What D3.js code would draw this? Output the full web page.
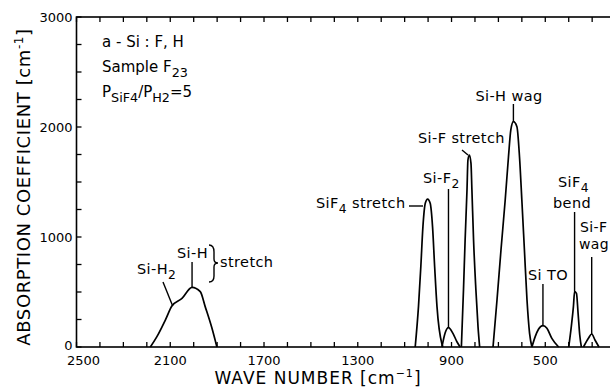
<!DOCTYPE html>
<html><head><meta charset="utf-8">
<script src="https://cdn.jsdelivr.net/npm/d3@7"></script>
<style>
html,body{margin:0;padding:0;background:#fff;}
svg{display:block;}
text{font-family:"DejaVu Sans",Verdana,sans-serif;fill:#000;}
</style></head><body>
<svg id="c" width="610" height="390"></svg>
<script>
// ---- data (wavenumber cm^-1, absorption coefficient cm^-1) ----
const siHStretch = [[2185,0],[2157,94],[2121,245],[2093,373],[2050,442],[2007,542],[1972,503],[1951,367],[1922,170],[1901,0]];
const siF4Stretch = [[1055,0],[1041,367],[1031,730],[1022,1094],[1012,1306],[1002,1345],[991,1306],[981,1094],[972,730],[962,367],[941,27],[937,0]];
const siF2 = [[941,0],[927,130],[913,176],[894,124],[877,48],[863,0]];
const siFStretch = [[858,0],[849,518],[842,973],[834,1427],[830,1700],[824,1745],[817,1670],[813,1427],[806,973],[796,518],[787,185],[780,0]];
const siHWag = [[723,0],[706,427],[689,882],[671,1336],[657,1730],[647,1973],[636,2048],[621,2003],[610,1730],[600,1336],[589,882],[578,427],[567,124],[557,0]];
const siTO = [[557,0],[543,94],[529,161],[510,194],[493,170],[472,79],[443,0]];
const siF4Bend = [[400,0],[389,185],[380,367],[375,503],[367,488],[360,306],[353,109],[346,0]];
const siFWag = [[337,0],[316,79],[302,118],[288,64],[271,0]];
const bands = [siHStretch, siF4Stretch, siF2, siFStretch, siHWag, siTO, siF4Bend, siFWag];

const xTickLabels = [2500, 2100, 1700, 1300, 900, 500];
const yTickLabels = [0, 1000, 2000, 3000];

// ---- layout ----
const svg = d3.select("#c");
const x = d3.scaleLinear().domain([2500, 200]).range([76.5, 615.6]);
const y = d3.scaleLinear().domain([0, 3000]).range([347, 17]);
const X0 = x.range()[0], X1 = x.range()[1], Y0 = y.range()[0], Y1 = y.range()[1];
const tickLen = 5;

const g = svg.append("g");
g.append("rect").attr("x", X0).attr("y", Y1).attr("width", X1 - X0).attr("height", Y0 - Y1)
  .attr("fill", "none").attr("stroke", "#000").attr("stroke-width", 1.6);

const xMinor = d3.range(2500, 199, -100);
const yMinor = d3.range(0, 3001, 250);
g.selectAll(".tb").data(xMinor).join("line")
  .attr("x1", d => x(d)).attr("x2", d => x(d)).attr("y1", Y0).attr("y2", Y0 - tickLen)
  .attr("stroke", "#000").attr("stroke-width", 1.3);
g.selectAll(".tt").data(xMinor).join("line")
  .attr("x1", d => x(d)).attr("x2", d => x(d)).attr("y1", Y1).attr("y2", Y1 + tickLen)
  .attr("stroke", "#000").attr("stroke-width", 1.3);
g.selectAll(".tl").data(yMinor).join("line")
  .attr("x1", X0).attr("x2", X0 + tickLen).attr("y1", d => y(d)).attr("y2", d => y(d))
  .attr("stroke", "#000").attr("stroke-width", 1.3);
g.selectAll(".tr").data(yMinor).join("line")
  .attr("x1", X1).attr("x2", X1 - tickLen).attr("y1", d => y(d)).attr("y2", d => y(d))
  .attr("stroke", "#000").attr("stroke-width", 1.3);

g.selectAll(".xl").data(xTickLabels).join("text")
  .attr("x", d => x(d) + (d === 2500 ? 7 : 0)).attr("y", Y0 + 18).attr("text-anchor", "middle")
  .attr("font-size", 13).text(d => d);
g.selectAll(".yl").data(yTickLabels).join("text")
  .attr("x", X0 - 4).attr("y", d => y(d) + (d === 0 ? 3 : 5)).attr("text-anchor", "end")
  .attr("font-size", 13).text(d => d);

const xt = g.append("text").attr("x", 318).attr("y", 384).attr("text-anchor", "middle")
  .attr("font-size", 17).attr("letter-spacing", 1);
xt.append("tspan").text("WAVE  NUMBER  [cm");
xt.append("tspan").attr("dy", -7).attr("font-size", 11).text("−1");
xt.append("tspan").attr("dy", 7).text("]");

const yt = g.append("text").attr("transform", "translate(30,187) rotate(-90)").attr("text-anchor", "middle")
  .attr("font-size", 18).attr("letter-spacing", 0.6);
yt.append("tspan").text("ABSORPTION  COEFFICIENT  [cm");
yt.append("tspan").attr("dy", -7).attr("font-size", 12).text("-1");
yt.append("tspan").attr("dy", 7).text("]");

const line = d3.line().x(d => x(d[0])).y(d => y(d[1])).curve(d3.curveMonotoneX);
g.selectAll(".band").data(bands).join("path")
  .attr("d", d => line(d.slice().reverse()))
  .attr("fill", "none").attr("stroke", "#000").attr("stroke-width", 1.7).attr("stroke-linejoin", "round");

function label(px, py, parts, size, anchor, ls) {
  const t = g.append("text").attr("x", px).attr("y", py).attr("font-size", size)
    .attr("text-anchor", anchor || "start").attr("letter-spacing", ls || 0);
  let sub = false;
  parts.forEach(p => {
    const s = t.append("tspan").text(p[0]);
    if (p[1] && !sub) { s.attr("dy", 5).attr("font-size", size * 0.85); sub = true; }
    else if (p[1] && sub) { s.attr("font-size", size * 0.85); }
    else if (!p[1] && sub) { s.attr("dy", -5); sub = false; }
  });
  return t;
}
function seg(x1, y1, x2, y2) {
  g.append("line").attr("x1", x1).attr("y1", y1).attr("x2", x2).attr("y2", y2)
    .attr("stroke", "#000").attr("stroke-width", 1.4);
}

label(102, 47, [["a - Si : F, H"]], 15);
label(102, 72, [["Sample  F"], ["23", true]], 15);
label(102, 97, [["P"], ["SiF4", true], ["/", false], ["P"], ["H2", true], ["=5", false]], 15);

const fs = 14.5, ls = 0.4;
label(137, 274, [["Si-H"], ["2", true]], fs, "start", ls);
seg(163, 282, x(2090), y(375));
label(177, 258, [["Si-H"]], fs, "start", ls);
seg(x(2007), 262, x(2007), y(542));
g.append("path").attr("d", "M209,245 Q214,245 214,252 L214,259 Q214,263 218,263 Q214,263 214,267 L214,276 Q214,282 209,282")
  .attr("fill", "none").attr("stroke", "#000").attr("stroke-width", 1.4);
label(220, 267, [["stretch"]], fs, "start", ls);

label(316, 208, [["SiF"], ["4", true], [" stretch", false]], fs, "start", ls);
seg(409, 206, 423, 206);
label(423, 183, [["Si-F"], ["2", true]], fs, "start", ls);
seg(x(913), 189, x(913), y(176));
label(418, 143, [["Si-F stretch"]], fs, "start", ls);
seg(462, 150, 468, 155);
label(509, 101, [["Si-H wag"]], fs, "middle", ls);
seg(x(636), 104, x(636), y(2048));
label(558, 187, [["SiF"], ["4", true]], fs, "start", ls);
label(553, 208, [["bend"]], fs, "start", ls);
seg(x(375), 212, x(375), y(503));
label(528, 280, [["Si TO"]], fs, "start", ls);
seg(x(510), 284, x(510), y(194));
label(580, 232, [["Si-F"]], 14, "start", ls);
label(579, 249, [["wag"]], 14, "start", ls);
seg(x(302), 257, x(302), y(118));
</script>
</body></html>
